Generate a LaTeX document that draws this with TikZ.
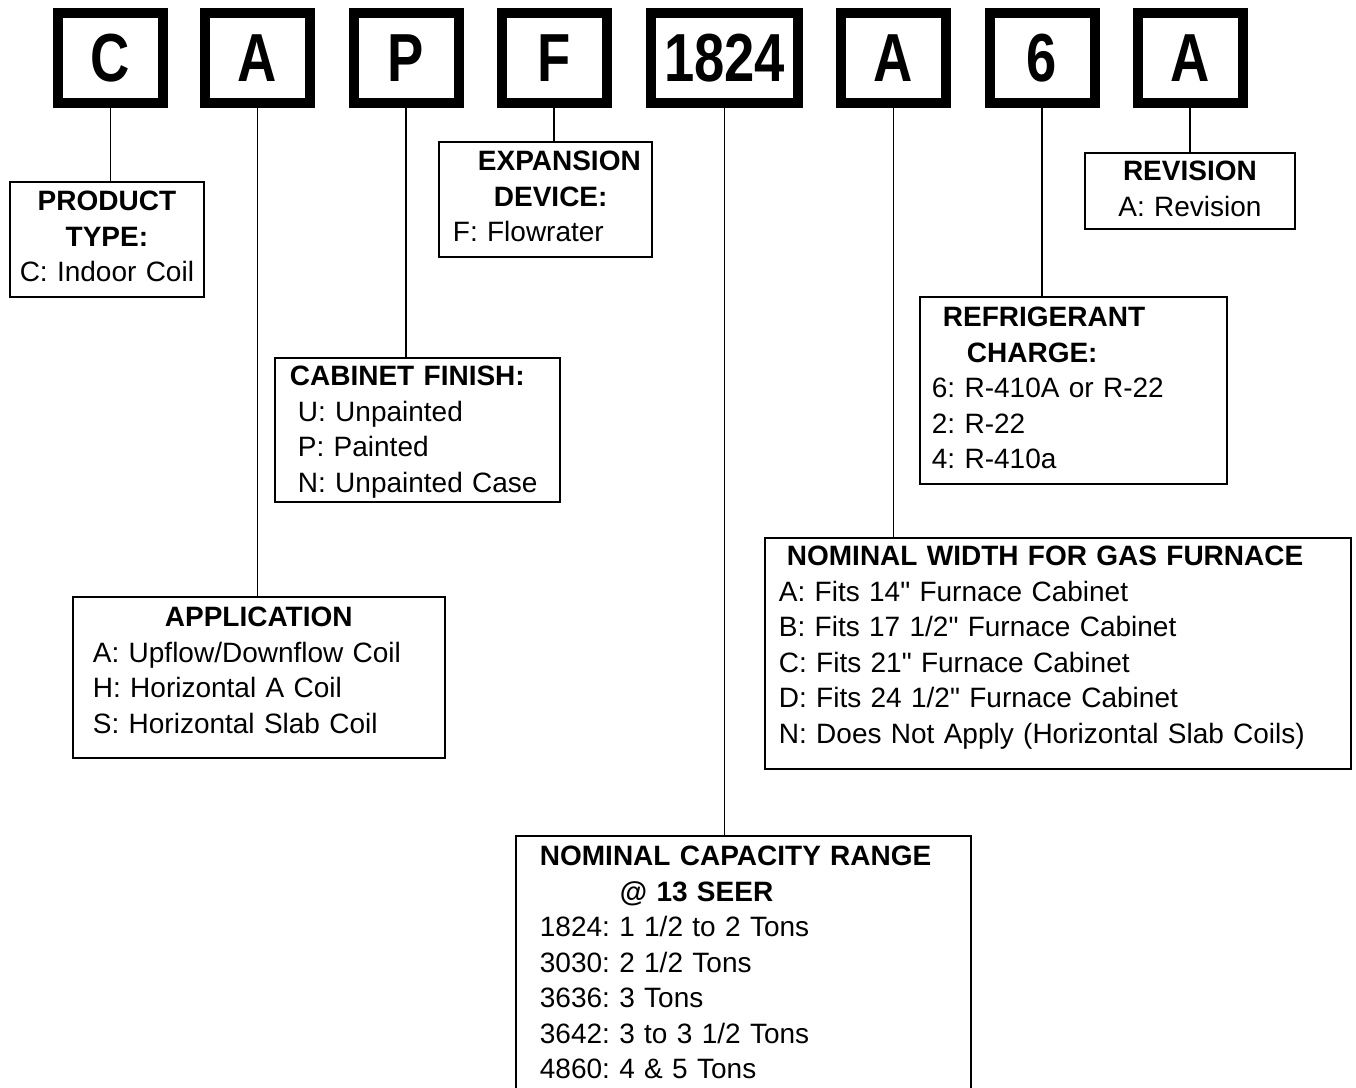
\documentclass[tikz,border=0pt]{standalone}
\usepackage{fontspec}
\setmainfont{Liberation Sans}[Ligatures=TeXOff]
\newfontfamily\codefont[FakeStretch=0.8]{Liberation Sans}
\frenchspacing

\begin{document}
\begin{tikzpicture}[x=1pt, y=-1pt,
  codebox/.style={draw, line width=10pt, minimum width=105pt, minimum height=90pt, inner sep=0pt,
    font=\codefont\bfseries\fontsize{68}{68}\selectfont},
  infobox/.style={draw, line width=1.8pt, anchor=north west, align=left, inner ysep=0pt,
    font=\fontsize{28}{35.5}\selectfont},
  link/.style={line width=1.8pt},
]
\useasboundingbox (0,0) rectangle (1356,1087);

\node[codebox] (C) at (110.5,58) {C};
\node[codebox] (A) at (257.5,58) {A};
\node[codebox] (P) at (406,58)   {P};
\node[codebox] (F) at (554,58)   {F};
\node[codebox, minimum width=147pt] (S) at (724.5,58) {1824};
\node[codebox] (W) at (893.5,58) {A};
\node[codebox] (R) at (1042,58)  {6};
\node[codebox] (V) at (1190,58)  {A};

\node[infobox, align=center, inner xsep=4pt, text width=186pt] (prod) at (9,181)
  {\rule{0pt}{29pt}\textbf{PRODUCT}\\ \textbf{TYPE:}\\ C: Indoor Coil\rule[-15pt]{0pt}{0pt}};
\node[infobox, inner xsep=6pt, text width=201pt] (exp) at (438,141)
  {\rule{0pt}{29pt}\hspace*{33pt}\textbf{EXPANSION}\\ \hspace*{49pt}\textbf{DEVICE:}\\
   \hspace*{8pt}F: Flowrater\rule[-15pt]{0pt}{0pt}};
\node[infobox, inner xsep=15pt, text width=255pt] (fin) at (274,357)
  {\rule{0pt}{28pt}\textbf{CABINET FINISH:}\\ \hspace*{8pt}U: Unpainted\\ \hspace*{8pt}P: Painted\\
   \hspace*{8pt}N: Unpainted Case\rule[-9.5pt]{0pt}{0pt}};
\node[infobox, inner xsep=20pt, text width=332pt] (app) at (72,596)
  {\rule{0pt}{30pt}\hspace*{72pt}\textbf{APPLICATION}\\ A: Upflow/Downflow Coil\\ H: Horizontal A Coil\\
   S: Horizontal Slab Coil\rule[-24.5pt]{0pt}{0pt}};
\node[infobox, align=center, inner xsep=4pt, text width=202pt] (rev) at (1084,152)
  {\rule{0pt}{28pt}\textbf{REVISION}\\ A: Revision\rule[-12.5pt]{0pt}{0pt}};
\node[infobox, inner xsep=12pt, text width=283pt] (ref) at (919,296)
  {\rule{0pt}{30pt}\hspace*{11pt}\textbf{REFRIGERANT}\\ \hspace*{35pt}\textbf{CHARGE:}\\
   6: R-410A or R-22\\ 2: R-22\\ 4: R-410a\rule[-15pt]{0pt}{0pt}};
\node[infobox, inner xsep=14pt, text width=558pt] (width) at (764,537)
  {\rule{0pt}{28pt}\hspace*{8pt}\textbf{NOMINAL WIDTH FOR GAS FURNACE}\\
   A: Fits 14" Furnace Cabinet\\ B: Fits 17 1/2" Furnace Cabinet\\
   C: Fits 21" Furnace Cabinet\\ D: Fits 24 1/2" Furnace Cabinet\\
   N: Does Not Apply (Horizontal Slab Coils)\rule[-25.5pt]{0pt}{0pt}};
\node[infobox, inner xsep=24pt, text width=407pt] (size) at (515,835)
  {\rule{0pt}{30pt}\textbf{NOMINAL CAPACITY RANGE}\\ \hspace*{80pt}\textbf{@ 13 SEER}\\
   1824: 1 1/2 to 2 Tons\\ 3030: 2 1/2 Tons\\ 3636: 3 Tons\\ 3642: 3 to 3 1/2 Tons\\
   4860: 4 \& 5 Tons\rule[-20pt]{0pt}{0pt}};

\draw[link] (C.south) -- (C.south |- prod.north);
\draw[link] (A.south) -- (A.south |- app.north);
\draw[link] (P.south) -- (P.south |- fin.north);
\draw[link] (F.south) -- (F.south |- exp.north);
\draw[link] (S.south) -- (S.south |- size.north);
\draw[link] (W.south) -- (W.south |- width.north);
\draw[link] (R.south) -- (R.south |- ref.north);
\draw[link] (V.south) -- (V.south |- rev.north);
\end{tikzpicture}
\end{document}
